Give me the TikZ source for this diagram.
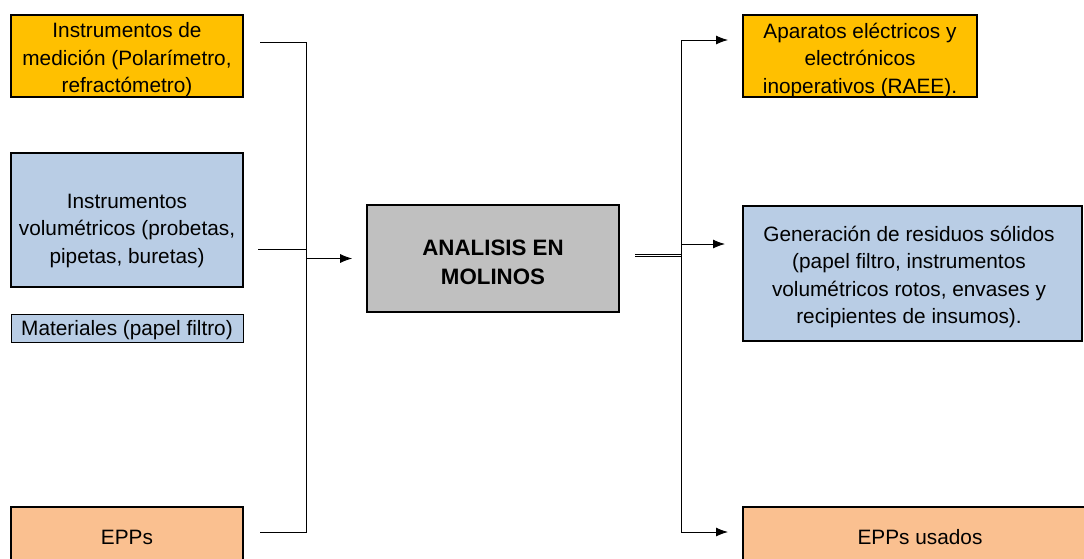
\documentclass[tikz,border=0pt]{standalone}
\usepackage{fontspec}
\setmainfont{Liberation Sans}
\usetikzlibrary{arrows.meta}
\definecolor{boxyellow}{HTML}{FFC000}
\definecolor{boxblue}{HTML}{B9CDE5}
\definecolor{boxorange}{HTML}{FAC090}
\definecolor{boxgray}{HTML}{C0C0C0}
\tikzset{
  box/.style={draw=black, line width=1.6pt, inner sep=0pt, anchor=center},
  yellowbox/.style={box, fill=boxyellow},
  bluebox/.style={box, fill=boxblue},
  orangebox/.style={box, fill=boxorange},
  graybox/.style={box, fill=boxgray},
  boxtext/.style={inner sep=0pt, align=center, font=\fontsize{20.8}{27.5}\selectfont},
  boldtext/.style={inner sep=0pt, align=center, font=\fontsize{22.3}{29}\selectfont\bfseries},
  wire/.style={draw=black, line width=0.9pt},
  flow/.style={wire, -{Latex[length=12pt,width=9pt]}},
}
\begin{document}
\begin{tikzpicture}[x=1pt,y=-1pt]
\useasboundingbox (0,0) rectangle (1084,558);
\clip (0,0) rectangle (1084,558);

% inputs
\node[yellowbox, minimum width=232pt, minimum height=82pt] (in1) at (127,56) {};
\node[boxtext] (in1t) at (127,60)
  {Instrumentos de\\medición (Polarímetro,\\refractómetro)};
\node[bluebox, minimum width=232pt, minimum height=134pt] (in2) at (127,220) {};
\node[boxtext] (in2t) at (127,230.5)
  {Instrumentos\\volumétricos (probetas,\\pipetas, buretas)};
\node[bluebox, line width=1pt, minimum width=232pt, minimum height=28pt] (in3) at (127,328) {};
\node[boxtext] (in3t) at (127,330) {Materiales (papel filtro)};
\node[orangebox, minimum width=232pt, minimum height=58pt] (in4) at (127,536) {};
\node[boxtext] (in4t) at (127,537.5) {EPPs};

% process
\node[graybox, minimum width=252pt, minimum height=107pt] (mid) at (493,258.5) {};
\node[boldtext] (midt) at (493,262) {ANALISIS EN\\MOLINOS};

% outputs
\node[yellowbox, minimum width=234pt, minimum height=82pt] (out1) at (860,56) {};
\node[boxtext] (out1t) at (860,60)
  {Aparatos eléctricos y\\electrónicos\\inoperativos (RAEE).};
\node[bluebox, minimum width=339pt, minimum height=135pt] (out2) at (912.5,273.5) {};
\node[boxtext] (out2t) at (909,277)
  {Generación de residuos sólidos\\(papel filtro, instrumentos\\volumétricos rotos, envases y\\recipientes de insumos).};
\node[orangebox, minimum width=354pt, minimum height=58pt] (out3) at (920,536) {};
\node[boxtext] (out3t) at (920,537.5) {EPPs usados};

% input bus
\coordinate (la) at (260,42);
\coordinate (lb) at (258,249.5);
\coordinate (lc) at (260,532);
\coordinate (lbus) at (306,258.5);
\draw[wire] (la) -- (306,42) -- (306,532) -- (lc);
\draw[wire] (lb) -- (306,249.5);
\draw[flow, shorten >=14pt] (lbus) -- (mid.west);

% output bus
\coordinate (ra) at (635,255.5);
\coordinate (rbus) at (681,255.5);
\coordinate (r1) at (728,40);
\coordinate (r2) at (725,244);
\coordinate (r3) at (728,532);
\draw[draw=black, line width=0.7pt, double, double distance=1.6pt] (ra) -- (rbus);
\draw[wire] (681,40) -- (681,532);
\draw[flow] (681,40) -- (r1);
\draw[flow] (681,244) -- (r2);
\draw[flow] (681,532) -- (r3);
\end{tikzpicture}
\end{document}
